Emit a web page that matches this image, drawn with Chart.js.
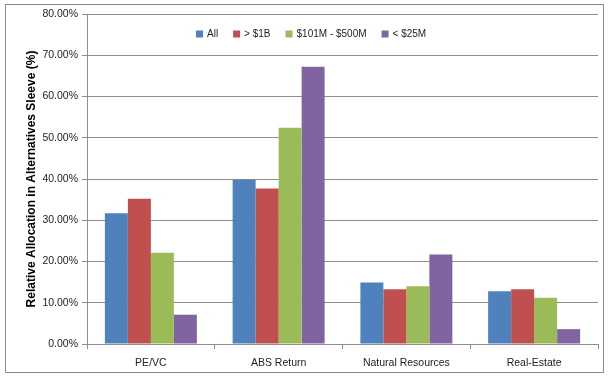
<!DOCTYPE html>
<html>
<head>
<meta charset="utf-8">
<script src="https://cdn.jsdelivr.net/npm/chart.js@4/dist/chart.umd.min.js"></script>
<style>
  html, body { margin: 0; padding: 0; background: #fff; }
  #wrap { width: 608px; height: 376px; position: relative; }
</style>
</head>
<body>
<div id="wrap"><canvas id="c" width="608" height="376"></canvas></div>
<script>
const categories = ['PE/VC', 'ABS Return', 'Natural Resources', 'Real-Estate'];
const seriesNames = ['All', '> $1B', '$101M - $500M', '< $25M'];
const allValues = [31.7, 39.8, 14.9, 12.8];
const over1BValues = [35.2, 37.7, 13.3, 13.3];
const mid101to500Values = [22.1, 52.4, 14.0, 11.2];
const under25MValues = [7.1, 67.2, 21.7, 3.6];
const yTicks = [0, 10, 20, 30, 40, 50, 60, 70, 80];

const colors = ['#4F81BD', '#C0504D', '#9BBB59', '#8064A2'];
const seriesValues = [allValues, over1BValues, mid101to500Values, under25MValues];

const FONT = "'Liberation Sans', Arial, sans-serif";
const GRID = '#8E8E8E';

// Outer frame around the whole chart
const framePlugin = {
  id: 'frame',
  beforeDraw(chart) {
    const ctx = chart.ctx;
    ctx.save();
    ctx.strokeStyle = '#8A8A8A';
    ctx.lineWidth = 1;
    ctx.strokeRect(5.5, 4.5, 598, 368);
    ctx.restore();
  }
};

// Single-row legend drawn inside the plot, near its top edge
const inlineLegendPlugin = {
  id: 'inlineLegend',
  afterDraw(chart, args, opts) {
    const ctx = chart.ctx;
    const box = 7, gapText = 4, gapItem = 15;
    ctx.save();
    ctx.font = '10px ' + FONT;
    ctx.textBaseline = 'middle';
    ctx.textAlign = 'left';
    const items = chart.data.datasets.map(ds => ({
      text: ds.label,
      color: ds.backgroundColor,
      w: box + gapText + ctx.measureText(ds.label).width
    }));
    const total = items.reduce((s, it) => s + it.w, 0) + gapItem * (items.length - 1);
    let x = Math.round(opts.centerX - total / 2);
    const y = opts.y;
    items.forEach(it => {
      ctx.fillStyle = it.color;
      ctx.fillRect(x, y - box / 2, box, box);
      ctx.fillStyle = '#222';
      ctx.fillText(it.text, x + box + gapText, y + 0.5);
      x += it.w + gapItem;
    });
    ctx.restore();
  }
};

new Chart(document.getElementById('c'), {
  type: 'bar',
  data: {
    labels: categories,
    datasets: seriesNames.map((name, i) => ({
      label: name,
      data: seriesValues[i],
      backgroundColor: colors[i],
      borderWidth: 0,
      barPercentage: 1,
      categoryPercentage: 0.72
    }))
  },
  options: {
    responsive: false,
    animation: false,
    devicePixelRatio: 1,
    layout: { padding: { left: 15, right: 10, top: 14, bottom: 6 } },
    plugins: {
      legend: { display: false },
      tooltip: { enabled: false },
      inlineLegend: { centerX: 311, y: 34 }
    },
    scales: {
      x: {
        grid: {
          offset: true,
          drawOnChartArea: false,
          drawTicks: true,
          tickLength: 5,
          color: GRID
        },
        border: { color: GRID },
        ticks: {
          color: '#222',
          padding: 8,
          font: { family: FONT, size: 10.5 }
        },
        afterFit(scale) { scale.height = 26; }
      },
      y: {
        min: 0,
        max: 80,
        afterBuildTicks(scale) { scale.ticks = yTicks.map(v => ({ value: v })); },
        grid: {
          color: GRID,
          tickLength: 5,
          drawTicks: true
        },
        border: { color: GRID },
        ticks: {
          color: '#222',
          padding: 4,
          font: { family: FONT, size: 10.5 },
          callback: v => v.toFixed(2) + '%'
        },
        title: {
          display: true,
          text: 'Relative Allocation in Alternatives Sleeve (%)',
          color: '#000',
          font: { family: FONT, size: 12, weight: 'bold' },
          padding: { top: 9, bottom: 4 }
        },
        afterFit(scale) { scale.width = 72; }
      }
    }
  },
  plugins: [framePlugin, inlineLegendPlugin]
});
</script>
</body>
</html>
